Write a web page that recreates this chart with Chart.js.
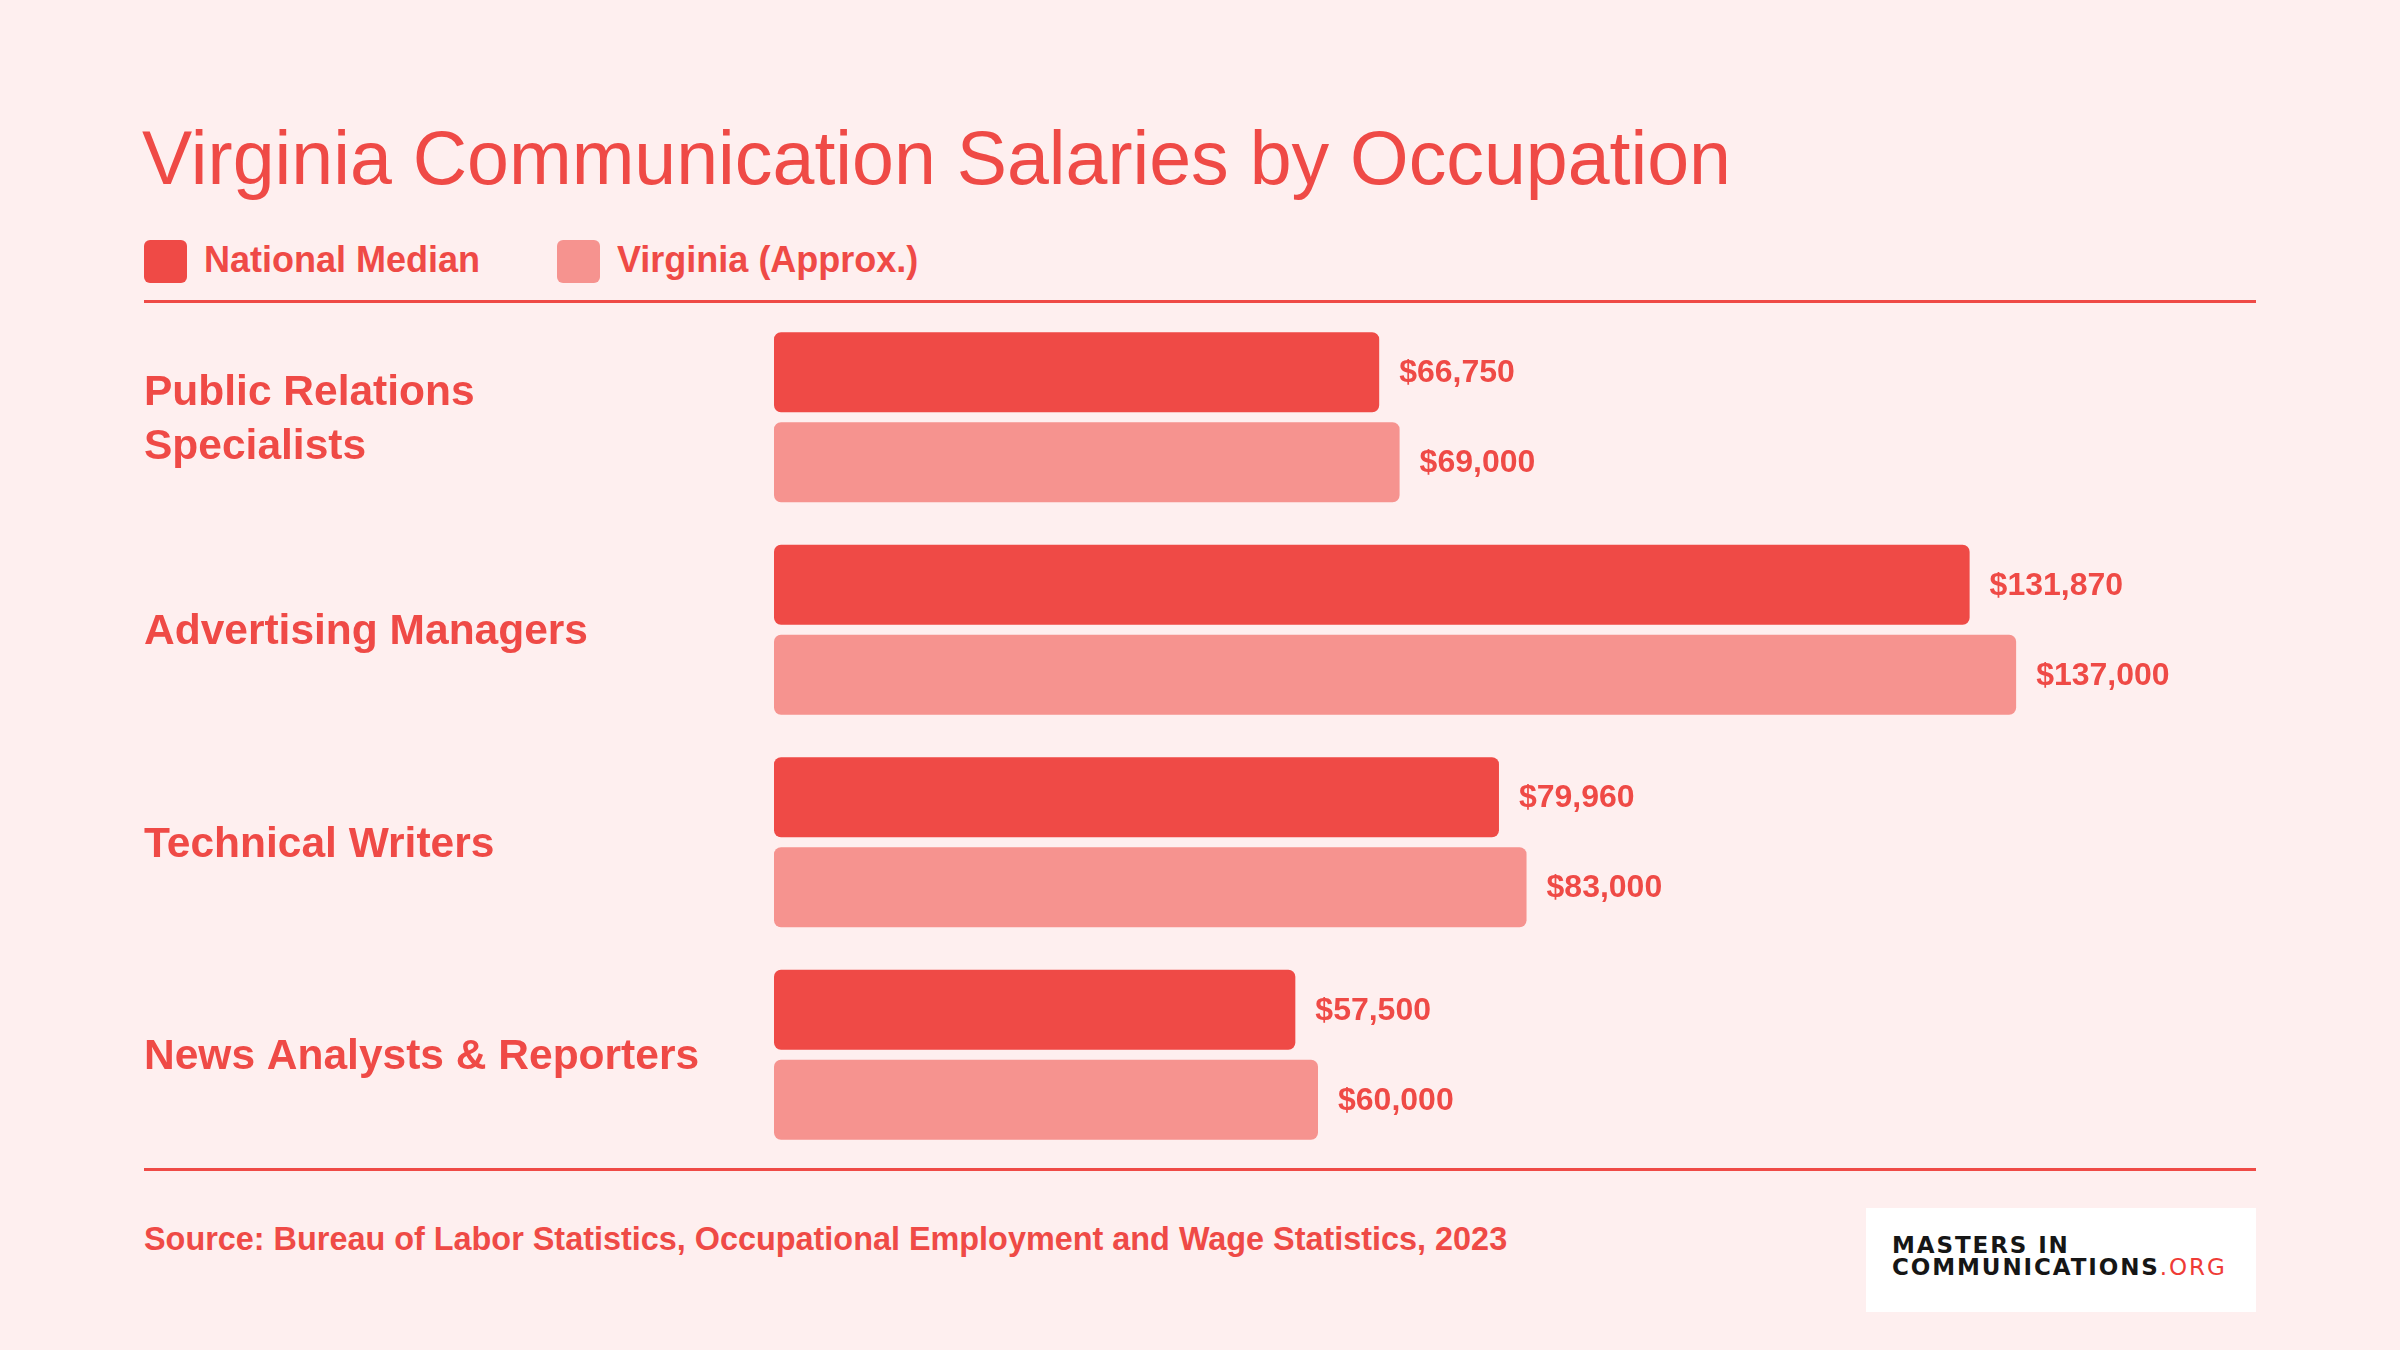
<!DOCTYPE html>
<html>
<head>
<meta charset="utf-8">
<script src="https://cdn.jsdelivr.net/npm/chart.js@4.4.1/dist/chart.umd.min.js"></script>
<style>
  html, body { margin: 0; padding: 0; }
  body {
    width: 2400px; height: 1350px; position: relative; overflow: hidden;
    background: #FEEFEF;
    font-family: "Liberation Sans", Arial, Helvetica, sans-serif;
    color: #EF4A46;
  }
  .abs { position: absolute; white-space: nowrap; line-height: 1; }
  #title { left: 142px; top: 121px; font-size: 75.3px; }
  .swatch { position: absolute; width: 43px; height: 43px; border-radius: 6px; top: 240px; }
  .legtext { top: 242px; font-size: 36px; font-weight: bold; }
  .rule { position: absolute; left: 144px; width: 2112px; height: 3px; background: #EF4A46; }
  #source { left: 144px; top: 1223px; font-size: 32.4px; font-weight: bold; }
  #logo { position: absolute; left: 1866px; top: 1208px; width: 390px; height: 104px; background: #FFFFFF; }
  #logo div {
    position: absolute; left: 26px; font-family: "DejaVu Sans", sans-serif; font-weight: bold;
    font-size: 23px; letter-spacing: 1.9px; line-height: 1; color: #161616;
  }
  #logo span { color: #EF3B36; font-weight: normal; }
  #wrap { position: absolute; left: 0; top: 301px; width: 2400px; height: 868px; }
</style>
</head>
<body>
<div id="title" class="abs">Virginia Communication Salaries by Occupation</div>

<div class="swatch" style="left:144px; background:#EF4A46;"></div>
<div class="abs legtext" style="left:204px;">National Median</div>
<div class="swatch" style="left:557px; background:#F6938F;"></div>
<div class="abs legtext" style="left:617px;">Virginia (Approx.)</div>

<div class="rule" style="top:300px;"></div>
<div id="wrap"><canvas id="chart" width="2400" height="868"></canvas></div>
<div class="rule" style="top:1168px;"></div>

<div id="source" class="abs">Source: Bureau of Labor Statistics, Occupational Employment and Wage Statistics, 2023</div>
<div id="logo">
  <div style="top:26px;">MASTERS IN</div>
  <div style="top:48px;">COMMUNICATIONS<span>.ORG</span></div>
</div>

<script>
const occupations = [
    ["Public Relations", "Specialists"],
    "Advertising Managers",
    "Technical Writers",
    "News Analysts & Reporters"
];
const nationalMedian = [66750, 131870, 79960, 57500];
const virginiaApprox = [69000, 137000, 83000, 60000];

const darkRed = "#EF4A46";
const lightRed = "#F6938F";

// draws the "$66,750" labels just past the end of each bar
const valueLabels = {
    id: "valueLabels",
    afterDatasetsDraw(chart) {
        const ctx = chart.ctx;
        ctx.save();
        ctx.font = "bold 32px 'Liberation Sans', Arial, sans-serif";
        ctx.fillStyle = darkRed;
        ctx.textAlign = "left";
        ctx.textBaseline = "middle";
        chart.data.datasets.forEach((ds, i) => {
            chart.getDatasetMeta(i).data.forEach((bar, j) => {
                let txt = "$" + ds.data[j].toLocaleString("en-US");
                ctx.fillText(txt, bar.x + 20, bar.y + 1);
            });
        });
        ctx.restore();
    }
};

function startChart() {
    const ctx = document.getElementById("chart");

    new Chart(ctx, {
        type: "bar",
        data: {
            labels: occupations,
            datasets: [{
                label: "National Median",
                data: nationalMedian,
                backgroundColor: darkRed,
                borderRadius: 7,
                borderSkipped: false
            }, {
                label: "Virginia (Approx.)",
                data: virginiaApprox,
                backgroundColor: lightRed,
                borderRadius: 7,
                borderSkipped: false
            }]
        },
        options: {
            indexAxis: "y",
            responsive: false,
            devicePixelRatio: 1,
            animation: false,
            categoryPercentage: 0.847,
            barPercentage: 0.889,
            layout: { padding: { left: 144, top: 10, right: 266, bottom: 8 } },
            plugins: {
                legend: { display: false },
                tooltip: { enabled: false }
            },
            scales: {
                x: { min: 0, max: 150000, display: false },
                y: {
                    grid: { display: false },
                    border: { display: false },
                    ticks: {
                        crossAlign: "far",
                        labelOffset: 3,
                        color: darkRed,
                        font: { family: "'Liberation Sans', Arial, sans-serif", size: 42.5, weight: "bold", lineHeight: 1.25 }
                    },
                    afterFit(scale) {
                        scale.width = 630;
                        // labels sit inside their bands, no extra room needed
                        scale.paddingTop = 0;
                        scale.paddingBottom = 0;
                    }
                }
            }
        },
        plugins: [valueLabels]
    });
}

document.addEventListener("DOMContentLoaded", startChart);
</script>
</body>
</html>
